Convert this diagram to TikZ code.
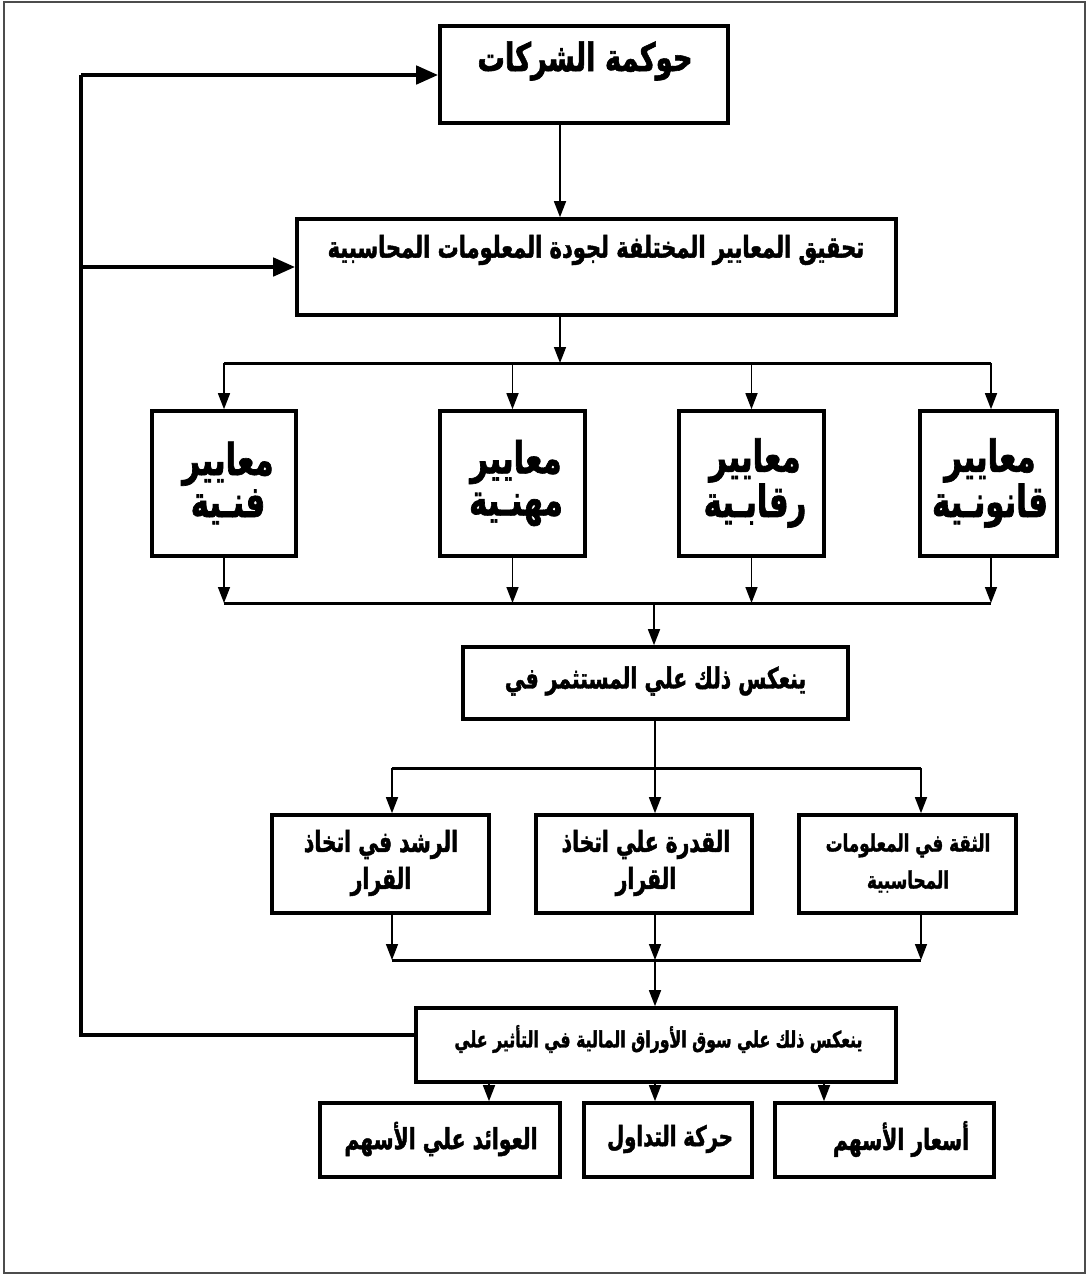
\documentclass[tikz,border=0pt]{standalone}
\usepackage{fontspec}
\usetikzlibrary{arrows.meta}
\TeXXeTstate=1
\newfontfamily\arabicfont[Script=Arabic, FakeStretch=0.7, FakeBold=1.5]{DejaVu Sans Bold}
\newcommand{\arsz}[2]{\arabicfont\fontsize{#1}{#2}\selectfont}
\begin{document}
\begin{tikzpicture}[x=1pt,y=-1pt,
  box/.style={draw, line width=3.6pt, inner sep=0pt, fill=white},
  txt/.style={inner sep=0pt, align=center},
  conn/.style={line width=1.5pt, -{Triangle[length=16pt,width=12pt]}},
  plain/.style={line width=1.5pt},
  barline/.style={line width=3pt},
  fb/.style={line width=4.5pt},
  fbarrow/.style={line width=4.5pt, -{Triangle[length=22pt,width=18pt]}},
  frame/.style={draw=black!70, line width=1.5pt}]
\useasboundingbox (0,0) rectangle (1087,1275);
\draw[frame] (4,2) rectangle (1085,1273);

% helper x-coordinates
\coordinate (x560) at (560,0);
\coordinate (x654) at (654,0);
\coordinate (x489) at (489,0);
\coordinate (x655) at (655,0);
\coordinate (x824) at (824,0);
% bars
\coordinate (bar1L) at (224,363);
\coordinate (bar1M) at (560,363);
\coordinate (bar1R) at (991,363);
\coordinate (bar2L) at (224,603);
\coordinate (bar2M) at (654,603);
\coordinate (bar2R) at (991,603);
\coordinate (bar3L) at (392,768);
\coordinate (bar3M) at (655,768);
\coordinate (bar3R) at (921,768);
\coordinate (bar4L) at (392,960);
\coordinate (bar4M) at (655,960);
\coordinate (bar4R) at (921,960);
% feedback corners
\coordinate (fbB) at (81,1035);
\coordinate (fbT) at (81,75);
\coordinate (fbM) at (81,267);

% boxes
\node[box, minimum width=288pt, minimum height=97pt] (gov) at (584,74.5) {};
\node[box, minimum width=599pt, minimum height=96pt] (crit) at (596.5,267) {};
\node[box, minimum width=144pt, minimum height=145pt] (s1) at (224,483.5) {};
\node[box, minimum width=145pt, minimum height=145pt] (s2) at (512.5,483.5) {};
\node[box, minimum width=145pt, minimum height=145pt] (s3) at (751.5,483.5) {};
\node[box, minimum width=137pt, minimum height=145pt] (s4) at (988.5,483.5) {};
\node[box, minimum width=385pt, minimum height=72pt] (inv) at (655.5,683) {};
\node[box, minimum width=217pt, minimum height=98pt] (r1) at (380.5,864) {};
\node[box, minimum width=216pt, minimum height=98pt] (r2) at (644,864) {};
\node[box, minimum width=217pt, minimum height=98pt] (r3) at (907.5,864) {};
\node[box, minimum width=480pt, minimum height=74pt] (mkt) at (656,1045) {};
\node[box, minimum width=240pt, minimum height=74pt] (b1) at (440,1140) {};
\node[box, minimum width=168pt, minimum height=74pt] (b2) at (668,1140) {};
\node[box, minimum width=219pt, minimum height=74pt] (b3) at (884.5,1140) {};

% texts
\node[txt, font=\arsz{39}{39}] (govt) at (585,61) {\beginR حوكمة الشركات\endR};
\node[txt, font=\arsz{30}{30}] (critt) at (596,250) {\beginR تحقيق المعايير المختلفة لجودة المعلومات المحاسبية\endR};
\node[txt, font=\arsz{44}{42}] (s1t) at (228,483) {\beginR معايير\endR\\\beginR فنـية\endR};
\node[txt, font=\arsz{44}{42}] (s2t) at (516,483) {\beginR معايير\endR\\\beginR مهنـية\endR};
\node[txt, font=\arsz{44}{42}] (s3t) at (755,483) {\beginR معايير\endR\\\beginR رقابـية\endR};
\node[txt, font=\arsz{44}{42}] (s4t) at (990,483) {\beginR معايير\endR\\\beginR قانونـية\endR};
\node[txt, font=\arsz{29}{29}] (invt) at (655.5,681) {\beginR ينعكس ذلك علي المستثمر في\endR};
\node[txt, font=\arsz{29}{37}] (r1t) at (381,863) {\beginR الرشد في اتخاذ\endR\\\beginR القرار\endR};
\node[txt, font=\arsz{29}{37}] (r2t) at (646,863) {\beginR القدرة علي اتخاذ\endR\\\beginR القرار\endR};
\node[txt, font=\arsz{24}{37}] (r3t) at (908,863) {\beginR الثقة في المعلومات\endR\\\beginR المحاسبية\endR};
\node[txt, font=\arsz{22.5}{22.5}] (mktt) at (658.5,1039) {\beginR ينعكس ذلك علي سوق الأوراق المالية في التأثير علي\endR};
\node[txt, font=\arsz{29}{29}] (b1t) at (441,1139) {\beginR العوائد علي الأسهم\endR};
\node[txt, font=\arsz{28}{28}] (b2t) at (670,1139) {\beginR حركة التداول\endR};
\node[txt, font=\arsz{29}{29}] (b3t) at (901,1139) {\beginR أسعار الأسهم\endR};

% connectors
\draw[conn] (gov.south -| x560) -- (crit.north -| x560);
\draw[conn] (crit.south -| x560) -- (bar1M);
\draw[barline] (bar1L) -- (bar1R);
\draw[conn] (bar1L) -- (s1.north);
\draw[conn] (s2.north |- bar1L) -- (s2.north);
\draw[conn] (s3.north |- bar1L) -- (s3.north);
\draw[conn] (bar1R) -- (bar1R |- s4.north);

\draw[conn] (s1.south) -- (bar2L);
\draw[conn] (s2.south) -- (s2.south |- bar2L);
\draw[conn] (s3.south) -- (s3.south |- bar2L);
\draw[conn] (bar2R |- s4.south) -- (bar2R);
\draw[barline] (bar2L) -- (bar2R);
\draw[conn] (bar2M) -- (inv.north -| x654);

\draw[plain] (inv.south -| x655) -- (bar3M);
\draw[barline] (bar3L) -- (bar3R);
\draw[conn] (bar3L) -- (bar3L |- r1.north);
\draw[conn] (bar3M) -- (bar3M |- r2.north);
\draw[conn] (bar3R) -- (bar3R |- r3.north);

\draw[conn] (bar4L |- r1.south) -- (bar4L);
\draw[conn] (bar4M |- r2.south) -- (bar4M);
\draw[conn] (bar4R |- r3.south) -- (bar4R);
\draw[barline] (bar4L) -- (bar4R);
\draw[conn] (bar4M) -- (mkt.north -| x655);

\draw[conn] (mkt.south -| x489) -- (b1.north -| x489);
\draw[conn] (mkt.south -| x655) -- (b2.north -| x655);
\draw[conn] (mkt.south -| x824) -- (b3.north -| x824);

% feedback
\draw[fb] (mkt.west |- fbB) -- (fbB) -- (fbT);
\draw[fbarrow] (fbT) -- (gov.west |- fbT);
\draw[fbarrow] (fbM) -- (crit.west |- fbM);
\end{tikzpicture}
\end{document}
